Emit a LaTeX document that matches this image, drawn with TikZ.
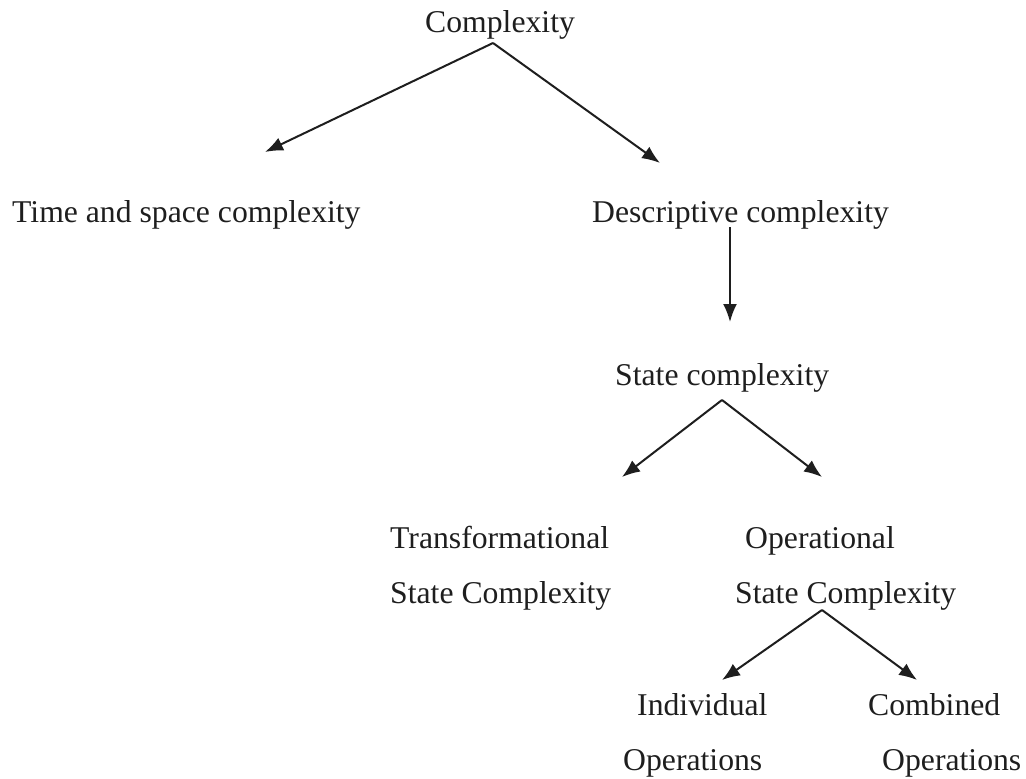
\documentclass[tikz,border=0pt]{standalone}
\usepackage{fontspec}
\setmainfont{Liberation Serif}
\usetikzlibrary{arrows.meta}
\definecolor{ink}{HTML}{1E1E1E}
\begin{document}
\begin{tikzpicture}[x=1pt,y=-1pt,
  txt/.style={anchor=base west,inner sep=0pt,text=ink,align=left,
    font=\fontsize{31.7}{55}\selectfont},
  arr/.style={draw=ink,line width=2pt,-{Latex[length=18pt,width=14pt]}}]
\useasboundingbox (0,0) rectangle (1026,779);

% labels (two-line labels are anchored at the baseline of their last line)
\node[txt] (cx)  at (425,32)  {Complexity};
\node[txt] (ts)  at (12,222)  {Time and space complexity};
\node[txt] (dc)  at (592,222) {Descriptive complexity};
\node[txt] (sc)  at (615,385) {State complexity};
\node[txt] (tsc) at (390,603) {Transformational\\State Complexity};
\node[txt] (osc) at (735,603) {\hspace*{10pt}Operational\\State Complexity};
\node[txt] (io)  at (623,770) {\hspace*{14pt}Individual\\Operations};
\node[txt] (co)  at (868,770) {Combined\\\hspace*{14pt}Operations};

% connector ends
\coordinate (cx-o)  at (493,43);
\coordinate (ts-i)  at (265,152);
\coordinate (dc-i)  at (660,163);
\coordinate (dc-o)  at (730,227);
\coordinate (sc-i)  at (730,322);
\coordinate (sc-o)  at (722,400);
\coordinate (tsc-i) at (622,477);
\coordinate (osc-i) at (822,477);
\coordinate (osc-o) at (822,610);
\coordinate (io-i)  at (722,680);
\coordinate (co-i)  at (917,680);

% connectors
\draw[arr] (cx-o) -- (ts-i);
\draw[arr] (cx-o) -- (dc-i);
\draw[arr] (dc-o) -- (sc-i);
\draw[arr] (sc-o) -- (tsc-i);
\draw[arr] (sc-o) -- (osc-i);
\draw[arr] (osc-o) -- (io-i);
\draw[arr] (osc-o) -- (co-i);
\end{tikzpicture}
\end{document}
